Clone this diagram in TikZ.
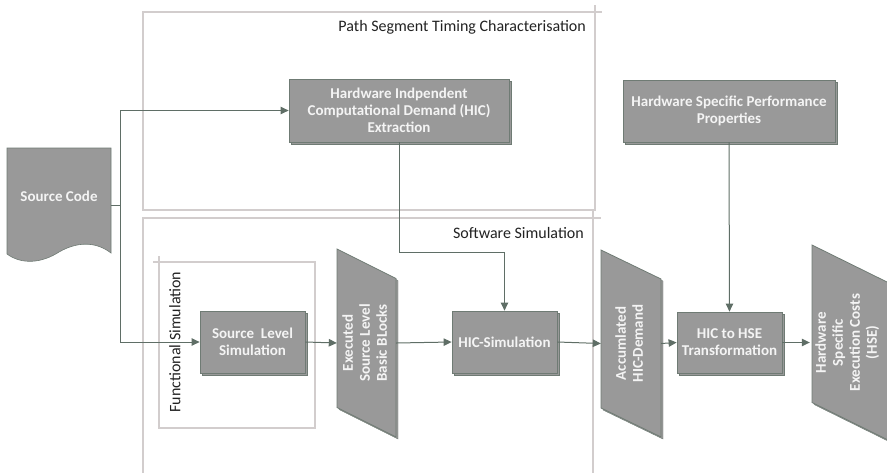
\documentclass[tikz,border=0pt]{standalone}
\usepackage{fontspec}
\setmainfont{Carlito}
\usetikzlibrary{arrows.meta,shadows,calc}
\definecolor{boxfill}{HTML}{999999}
\definecolor{boxline}{HTML}{6F7B74}
\definecolor{wire}{HTML}{5F6E66}
\definecolor{framegrey}{HTML}{D2CDCD}
\definecolor{labeltext}{HTML}{222222}
\definecolor{boxtext}{HTML}{F4F4F4}

% vertical parallelogram (data object) around a centre coordinate:
% #1 centre, #2 half width, #3 long half height, #4 short half height
\newcommand\dataslant[4]{%
  \draw[para] ($(#1)+(-#2,-#3)$) -- ($(#1)+(#2,-#4)$) -- ($(#1)+(#2,#3)$) -- ($(#1)+(-#2,#4)$) -- cycle;}
\newcommand\vtext[1]{\rotatebox{90}{\begin{tabular}{@{}c@{}}#1\end{tabular}}}

\begin{document}
\begin{tikzpicture}[x=1pt,y=-1pt,
  boxfont/.style={font=\fontsize{15}{17}\selectfont\bfseries},
  proc/.style={boxfont, draw=boxline, fill=boxfill, line width=0.8pt, text=boxtext,
    align=center, inner sep=0pt,
    copy shadow={shadow xshift=2pt, shadow yshift=-2pt}},
  para/.style={draw=boxline, fill=boxfill, line width=0.8pt,
    copy shadow={shadow xshift=2pt, shadow yshift=-2pt}},
  docshape/.style={draw=boxline, fill=boxfill, line width=0.6pt},
  ghost/.style={boxfont, text=boxtext, align=center, inner sep=0pt},
  framel/.style={draw=framegrey, line width=1.1pt},
  flabel/.style={font=\fontsize{16}{19}\selectfont, text=labeltext, inner sep=0pt},
  conn/.style={draw=wire, line width=1pt},
  arr/.style={conn, -{Triangle[length=8pt,width=7.5pt]}}]
\useasboundingbox (0,0) rectangle (887,472);

% ---- group frames ----
\draw[framel] (143,12) rectangle (595,210);
\draw[framel] (595,12) -- (595,5) (595,12) -- (602,12);
\draw[framel] (143,476) -- (143,218) -- (593,218) -- (593,476);
\draw[framel] (593,218) -- (601,218) (593,218) -- (593,211);
\draw[framel] (159,262) rectangle (315,428);
\draw[framel] (159,262) -- (159,256) (159,262) -- (153,262);

\node[flabel, anchor=east] (pstc) at (586,27) {Path Segment Timing Characterisation};
\node[flabel, anchor=east] (swsim) at (584,233) {Software Simulation};
\node[flabel, rotate=90] (funsim) at (175,342) {Functional Simulation};

% ---- source code document ----
\draw[docshape] (7,148) -- (111,148) -- (111,253)
  .. controls (98,243) and (80,240) .. (59,252)
  .. controls (42,263) and (22,265) .. (7,254) -- cycle;
\node[ghost, minimum width=104pt] (src) at (59,196) {Source Code};

% ---- process boxes ----
\node[proc, minimum width=220pt, minimum height=63pt] (hic) at (399,110.5)
  {Hardware Indpendent\\Computational Demand (HIC)\\Extraction};
\node[proc, minimum width=212pt, minimum height=62pt] (hsp) at (729,111)
  {Hardware Specific Performance\\Properties};
\node[proc, minimum width=105pt, minimum height=62pt] (sls) at (252.5,342)
  {Source\ \ Level\\Simulation};
\node[proc, minimum width=105pt, minimum height=62pt] (hicsim) at (504.5,342)
  {HIC-Simulation};
\node[proc, minimum width=105pt, minimum height=61pt] (hichse) at (729.5,342.5)
  {HIC to HSE\\Transformation};

% ---- data objects ----
\coordinate (exe-c) at (366.5,343);
\dataslant{exe-c}{29.5}{94}{64.5}
\node[ghost, minimum width=59pt, minimum height=120pt] (exe) at (exe-c)
  {\vtext{Executed\\Source Level\\Basic BLocks}};

\coordinate (acc-c) at (631,343.5);
\dataslant{acc-c}{30}{93.5}{64.5}
\node[ghost, minimum width=60pt, minimum height=120pt] (acc) at (acc-c)
  {\vtext{Accumlated\\HIC-Demand}};

\coordinate (hse-c) at (850,342.5);
\dataslant{hse-c}{38}{97.5}{60}
\node[ghost, minimum width=76pt, minimum height=120pt] (hse) at (848,342.5)
  {\vtext{Hardware\\Specific\\Execution Costs\\(HSE)}};

% ---- connectors ----
\coordinate (j) at (120,205);
\coordinate (swbend) at (0,252);
\draw[conn] (src.east |- j) -- (j);
\draw[arr] (j) |- (hic.west);
\draw[arr] (j) |- (sls.west);
\draw[arr] (hic.south) |- (hicsim.north |- swbend) -- (hicsim.north);
\draw[arr] (sls.east) -- (exe.west);
\draw[arr] (exe.east) -- (hicsim.west);
\draw[arr] (hicsim.east) -- (acc.west);
\draw[arr] (acc.east) -- (hichse.west);
\draw[arr] (hsp.south) -- (hichse.north);
\draw[arr] (hichse.east) -- (hse.west);
\end{tikzpicture}
\end{document}
